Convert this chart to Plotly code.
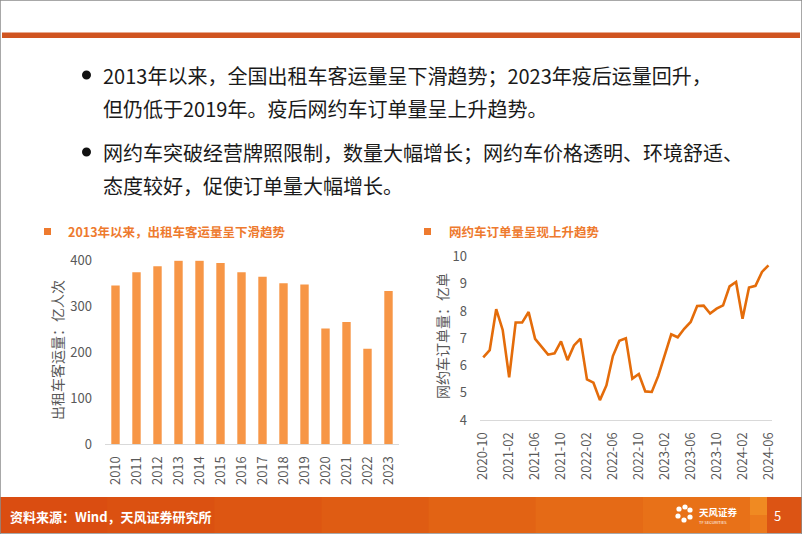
import plotly.graph_objects as go

W, H = 802, 534

# ---------------- data ----------------
years = ["2010", "2011", "2012", "2013", "2014", "2015", "2016",
         "2017", "2018", "2019", "2020", "2021", "2022", "2023"]
taxi_volume = [346, 375, 388, 401, 401, 395, 375, 365, 351, 348, 252, 266, 208, 334]

months = []
y0, m0 = 2020, 10
for i in range(45):
    mm = m0 - 1 + i
    months.append(f"{y0 + mm // 12}-{mm % 12 + 1:02d}")
ride_orders = [6.30, 6.57, 8.07, 7.31, 5.57, 7.58, 7.58, 7.97, 6.98, 6.69,
               6.40, 6.45, 6.89, 6.20, 6.74, 6.99, 5.49, 5.37, 4.73, 5.27,
               6.35, 6.91, 7.00, 5.52, 5.69, 5.05, 5.03, 5.62, 6.39, 7.15,
               7.04, 7.35, 7.60, 8.19, 8.20, 7.91, 8.09, 8.21, 8.91, 9.07,
               7.72, 8.87, 8.93, 9.44, 9.68]
month_ticks = months[::4]

# ---------------- helpers ----------------
def px(x):
    return x / W

def py(y):
    return 1 - y / H

CJK = "Noto Sans CJK SC"
GRAY = "#595959"
ORANGE_T = "#EE7A2E"

fig = go.Figure()

fig.add_trace(go.Bar(
    x=years, y=taxi_volume, marker_color="#F79646", marker_line_width=0,
    xaxis="x", yaxis="y", cliponaxis=False, showlegend=False,
))
fig.add_trace(go.Scatter(
    x=months, y=ride_orders, mode="lines",
    line=dict(color="#E46C0A", width=2.6),
    xaxis="x2", yaxis="y2", showlegend=False,
))

axis_font = dict(family=CJK, size=13, color=GRAY)
xtick_font = dict(family=CJK, size=13, color=GRAY)

fig.update_layout(
    width=W, height=H,
    margin=dict(l=0, r=0, t=0, b=0, autoexpand=False),
    paper_bgcolor="white", plot_bgcolor="white",
    bargap=0.6,
    xaxis=dict(domain=[px(105), px(399)], type="category",
               showline=True, linecolor="#D9D9D9", linewidth=1,
               tickangle=-90, tickfont=xtick_font,
               ticks="", ticklabelstandoff=6, showgrid=False, anchor="y"),
    yaxis=dict(domain=[py(444), py(260.7)], range=[0, 400],
               tickvals=[0, 100, 200, 300, 400],
               showgrid=False, zeroline=False, showline=False,
               tickfont=axis_font, ticks="", ticklabelstandoff=12, anchor="x"),
    xaxis2=dict(domain=[px(480), px(771.7)], type="category",
                range=[-0.5, 44.5],
                tickvals=month_ticks, ticktext=month_ticks,
                showline=True, linecolor="#D9D9D9", linewidth=1,
                tickangle=-90, tickfont=xtick_font,
                ticks="", ticklabelstandoff=6, showgrid=False, anchor="y2"),
    yaxis2=dict(domain=[py(420), py(256.7)], range=[4, 10],
                tickvals=[4, 5, 6, 7, 8, 9, 10],
                showgrid=False, zeroline=False, showline=False,
                tickfont=axis_font, ticks="", ticklabelstandoff=12, anchor="x2"),
)

shapes = []
# top orange rule
shapes.append(dict(type="rect", xref="paper", yref="paper", x0=px(2), x1=px(800),
                   y0=py(38), y1=py(32.5), line=dict(width=0), fillcolor="#D05420"))
# footer bar (stepped gradient from red-orange to orange)
foot_cols = ["#DA4D11", "#DB5111", "#DD5612", "#DF5C13", "#E26314", "#E56A16", "#E87118"]
seg_w = 750 / len(foot_cols)
for i, c in enumerate(foot_cols):
    shapes.append(dict(type="rect", xref="paper", yref="paper",
                       x0=px(i * seg_w), x1=px((i + 1) * seg_w + 1),
                       y0=py(533), y1=py(497), line=dict(width=0), fillcolor=c))
shapes.append(dict(type="rect", xref="paper", yref="paper", x0=px(750), x1=px(767),
                   y0=py(533), y1=py(497), line=dict(width=0), fillcolor="#F08A22"))
shapes.append(dict(type="rect", xref="paper", yref="paper", x0=px(750), x1=px(767),
                   y0=py(533), y1=py(515), line=dict(width=0), fillcolor="#EC7A1C"))
shapes.append(dict(type="rect", xref="paper", yref="paper", x0=px(767), x1=px(802),
                   y0=py(533), y1=py(497), line=dict(width=0), fillcolor="#DC5414"))
# frame
shapes.append(dict(type="rect", xref="paper", yref="paper", x0=0, x1=1, y0=0, y1=1,
                   line=dict(color="#8C8C8C", width=1.5), fillcolor="rgba(0,0,0,0)", layer="above"))
# bullets
for yb in (75, 152):
    shapes.append(dict(type="circle", xref="paper", yref="paper",
                       x0=px(82), x1=px(91), y0=py(yb + 4.5), y1=py(yb - 4.5),
                       line=dict(width=0), fillcolor="#111111"))
# title squares
for xs in (44, 424):
    shapes.append(dict(type="rect", xref="paper", yref="paper",
                       x0=px(xs), x1=px(xs + 7), y0=py(235), y1=py(228),
                       line=dict(width=0), fillcolor=ORANGE_T))
# little logo flower
for dx, dy in [(-5, -5), (1, -7), (6, -4), (-6, 2), (6, 3), (0, 6)]:
    shapes.append(dict(type="circle", xref="paper", yref="paper",
                       x0=px(684 + dx - 2.6), x1=px(684 + dx + 2.6),
                       y0=py(514 + dy + 2.6), y1=py(514 + dy - 2.6),
                       line=dict(width=0), fillcolor="white"))
fig.update_layout(shapes=shapes)

ann = []
def text(x, y, s, size, color, anchor="left", bold=False, angle=0, family=CJK):
    ann.append(dict(xref="paper", yref="paper", x=px(x), y=py(y), text=(f"<b>{s}</b>" if bold else s),
                    showarrow=False, xanchor=anchor, yanchor="middle", textangle=angle,
                    font=dict(family=family, size=size, color=color)))

body = "#1A1A1A"
text(101, 75, "2013年以来，全国出租车客运量呈下滑趋势；2023年疫后运量回升，", 20, body)
text(101, 108, "但仍低于2019年。疫后网约车订单量呈上升趋势。", 20, body)
text(101, 152, "网约车突破经营牌照限制，数量大幅增长；网约车价格透明、环境舒适、", 20, body)
text(101, 186, "态度较好，促使订单量大幅增长。", 20, body)

text(66, 231, "2013年以来，出租车客运量呈下滑趋势", 12.5, ORANGE_T, bold=True)
text(447, 231, "网约车订单量呈现上升趋势", 12.5, ORANGE_T, bold=True)

text(57, 350, "出租车客运量：亿人次", 14, GRAY, anchor="center", angle=-90)
text(442, 336, "网约车订单量：亿单", 14, GRAY, anchor="center", angle=-90)

text(8, 516, "资料来源：Wind，天风证券研究所", 13, "white", bold=True)
text(697, 512, "天风证券", 9.5, "white", bold=True)
text(697, 522, "TF SECURITIES", 4, "white")
text(777, 515, "5", 13, "white", anchor="center")
fig.update_layout(annotations=ann)

fig.write_html("out.html")
